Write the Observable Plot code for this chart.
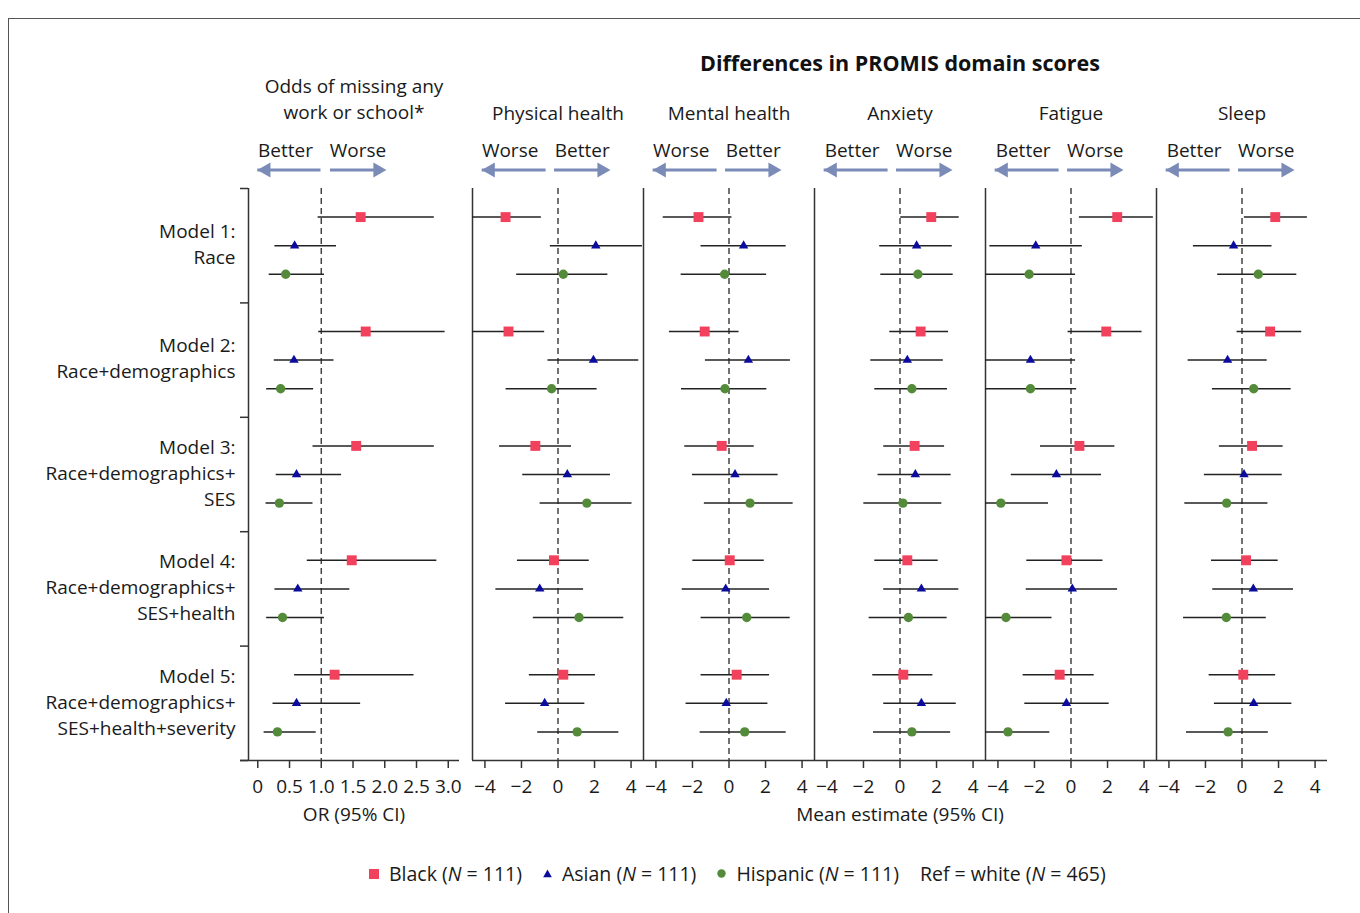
<!DOCTYPE html>
<html>
<head>
<meta charset="utf-8">
<script src="https://cdn.jsdelivr.net/npm/d3@7"></script>
<script src="https://cdn.jsdelivr.net/npm/@observablehq/plot@0.6"></script>
<style>
  body { margin: 0; background: #fff; }
  #root { position: relative; width: 1360px; height: 913px; overflow: hidden; font-family: "Open Sans", sans-serif; color: #1a1a1a; background: #fff; }
  #frame { position: absolute; left: 8px; top: 18px; width: 1400px; height: 950px; border-left: 1.5px solid #555; border-top: 1.5px solid #555; }
  .panel { position: absolute; top: 0; }
  .panel svg { overflow: visible; }
  #legend { position: absolute; top: 860px; left: 369px; display: flex; align-items: center; font-size: 19.5px; white-space: nowrap; }
  #legend .sym { display: inline-block; margin-right: 10px; }
  #legend .item { display: flex; align-items: center; margin-right: 21px; }
</style>
</head>
<body>
<div id="root">
  <div id="frame"></div>
  <div id="p1" class="panel"></div>
  <div id="p2" class="panel"></div>
  <div id="legend"></div>
</div>
<script>
// ---------- data ----------
const races = ["Black", "Asian", "Hispanic"];
const raceColors = ["#f2415d", "#0b0b9e", "#548b3a"];
const raceSymbols = ["square", "triangle", "circle"];
const legendLabels = ["Black", "Asian", "Hispanic"];
const legendN = [111, 111, 111];
const refLabel = "Ref = white";
const refN = 465;

const modelLabels = [
  "Model 1:\nRace",
  "Model 2:\nRace+demographics",
  "Model 3:\nRace+demographics+\nSES",
  "Model 4:\nRace+demographics+\nSES+health",
  "Model 5:\nRace+demographics+\nSES+health+severity"
];

// each model: [Black, Asian, Hispanic], each [estimate, lower, upper]
const oddsMissing = [
  [[1.62, 0.95, 2.78], [0.58, 0.27, 1.24], [0.44, 0.18, 1.05]],
  [[1.70, 0.96, 2.95], [0.57, 0.26, 1.20], [0.36, 0.14, 0.88]],
  [[1.55, 0.87, 2.78], [0.61, 0.29, 1.32], [0.34, 0.13, 0.87]],
  [[1.48, 0.78, 2.82], [0.63, 0.27, 1.45], [0.39, 0.14, 1.05]],
  [[1.21, 0.58, 2.46], [0.61, 0.24, 1.62], [0.31, 0.10, 0.92]]
];
const physicalHealth = [
  [[-2.87, -4.83, -0.91], [2.07, -0.42, 4.62], [0.29, -2.26, 2.73]],
  [[-2.71, -4.69, -0.73], [1.94, -0.55, 4.42], [-0.35, -2.84, 2.14]],
  [[-1.24, -3.20, 0.74], [0.51, -1.93, 2.87], [1.58, -0.98, 4.05]],
  [[-0.22, -2.22, 1.71], [-1.00, -3.40, 1.40], [1.15, -1.35, 3.60]],
  [[0.29, -1.57, 2.05], [-0.73, -2.87, 1.47], [1.05, -1.11, 3.33]]
];
const mentalHealth = [
  [[-1.67, -3.60, 0.16], [0.80, -1.53, 3.13], [-0.24, -2.62, 2.06]],
  [[-1.33, -3.26, 0.55], [1.06, -1.29, 3.36], [-0.22, -2.60, 2.07]],
  [[-0.40, -2.42, 1.38], [0.33, -2.00, 2.69], [1.15, -1.35, 3.51]],
  [[0.04, -1.98, 1.93], [-0.18, -2.56, 2.22], [0.97, -1.53, 3.35]],
  [[0.42, -1.53, 2.22], [-0.15, -2.35, 2.13], [0.86, -1.58, 3.13]]
];
const anxiety = [
  [[1.71, 0.04, 3.24], [0.91, -1.11, 2.86], [0.98, -1.05, 2.91]],
  [[1.13, -0.56, 2.66], [0.40, -1.60, 2.37], [0.65, -1.38, 2.60]],
  [[0.80, -0.89, 2.44], [0.84, -1.20, 2.80], [0.16, -1.98, 2.29]],
  [[0.40, -1.38, 2.09], [1.17, -0.89, 3.22], [0.46, -1.69, 2.58]],
  [[0.18, -1.49, 1.80], [1.17, -0.89, 3.08], [0.65, -1.45, 2.77]]
];
const fatigue = [
  [[2.53, 0.46, 4.51], [-1.93, -4.44, 0.62], [-2.29, -4.83, 0.25]],
  [[1.93, -0.16, 3.89], [-2.22, -4.69, 0.25], [-2.22, -4.75, 0.31]],
  [[0.46, -1.67, 2.40], [-0.80, -3.27, 1.67], [-3.84, -6.45, -1.23]],
  [[-0.25, -2.42, 1.75], [0.07, -2.45, 2.55], [-3.56, -6.08, -1.04]],
  [[-0.62, -2.62, 1.27], [-0.25, -2.53, 2.09], [-3.45, -5.74, -1.16]]
];
const sleep = [
  [[1.82, 0.13, 3.58], [-0.46, -2.66, 1.64], [0.89, -1.33, 3.00]],
  [[1.54, -0.27, 3.27], [-0.79, -2.95, 1.38], [0.64, -1.62, 2.69]],
  [[0.55, -1.24, 2.25], [0.11, -2.06, 2.20], [-0.84, -3.13, 1.42]],
  [[0.22, -1.67, 1.98], [0.62, -1.60, 2.82], [-0.86, -3.20, 1.33]],
  [[0.07, -1.80, 1.84], [0.64, -1.51, 2.73], [-0.76, -3.04, 1.44]]
];

const panels = ["Physical health", "Mental health", "Anxiety", "Fatigue", "Sleep"];
const panelData = [physicalHealth, mentalHealth, anxiety, fatigue, sleep];
const leftWords = ["Worse", "Worse", "Better", "Better", "Better"];
const rightWords = ["Better", "Better", "Worse", "Worse", "Worse"];

const orTicks = [0, 0.5, 1, 1.5, 2, 2.5, 3];
const meanTicks = [-4, -2, 0, 2, 4];
const orTitle = "Odds of missing any\nwork or school*";
const orAxisLabel = "OR (95% CI)";
const meanAxisLabel = "Mean estimate (95% CI)";
const mainTitle = "Differences in PROMIS domain scores";

// ---------- layout / style ----------
const FONT = "'Open Sans', sans-serif";
const FS = "19px";
const ink = "#1a1a1a";
const axisInk = "#333";
const arrowColor = "#7b8bb8";
const yDomain = [0, 20];
const bandEdges = [0, 4, 8, 12, 16, 20];
const xOR = [-0.146, 3.177];
const xMean = [-4.68, 4.68];

function rowsFrom(arr, panel) {
  const out = [];
  arr.forEach((m, mi) => m.forEach((v, ri) => {
    out.push({panel, model: mi, race: races[ri], y: mi * 4 + ri + 1, est: v[0], lo: v[1], hi: v[2]});
  }));
  return out;
}
const orRows = rowsFrom(oddsMissing, "OR");
const meanRows = panelData.flatMap((arr, i) => rowsFrom(arr, panels[i]));

const dotR = {Black: 5.6, Asian: 3.5, Hispanic: 4.7};
function dotMarks(rows, extra = {}) {
  return races.map((r, i) => Plot.dot(rows.filter(d => d.race === r), {
    x: "est", y: "y", symbol: () => raceSymbols[i], fill: raceColors[i], r: dotR[r], stroke: "none", ...extra
  }));
}

function arrowMarks(arrows, extra = {}) {
  const top = yDomain[0];
  const left = arrows.filter(a => a.tip < a.tail);
  const right = arrows.filter(a => a.tip > a.tail);
  return [
    Plot.ruleY(left, {x1: "tail", x2: "tip", y: () => top, dy: -18.5, stroke: arrowColor, strokeWidth: 3, insetLeft: 8, ...extra}),
    Plot.ruleY(right, {x1: "tail", x2: "tip", y: () => top, dy: -18.5, stroke: arrowColor, strokeWidth: 3, insetRight: 8, ...extra}),
    Plot.dot(left, {x: "tip", y: () => top, dy: -18.5, dx: 8.3, symbol: "triangle", r: 5.6, rotate: -90, fill: arrowColor, stroke: "none", ...extra}),
    Plot.dot(right, {x: "tip", y: () => top, dy: -18.5, dx: -8.3, symbol: "triangle", r: 5.6, rotate: 90, fill: arrowColor, stroke: "none", ...extra})
  ];
}

const baseStyle = {fontFamily: FONT, fontSize: FS, color: ink, background: "transparent", overflow: "visible"};
const yScale = {domain: yDomain, reverse: true, axis: null};

// ---------- panel 1: odds ratio ----------
const orArrows = [{tail: 0.87, tip: 0.0}, {tail: 1.145, tip: 2.02}];
const orWords = [{x: 0.436, t: "Better"}, {x: 1.578, t: "Worse"}];

const plot1 = Plot.plot({
  width: 470, height: 913,
  marginLeft: 248, marginRight: 11, marginTop: 188, marginBottom: 153,
  x: {domain: xOR, axis: null},
  y: yScale,
  style: baseStyle,
  marks: [
    Plot.ruleX([xOR[0]], {stroke: axisInk, strokeWidth: 1.5}),
    Plot.axisY({ticks: bandEdges, tickFormat: () => "", tickSize: 8, label: null, stroke: axisInk, strokeWidth: 1.5}),
    Plot.ruleY([yDomain[1]], {stroke: axisInk, strokeWidth: 1.5, insetLeft: -8}),
    Plot.axisX({ticks: orTicks, tickFormat: d => d === 0 ? "0" : d.toFixed(1), tickSize: 8, tickPadding: 11, label: null, stroke: axisInk, strokeWidth: 1.5, fill: ink}),
    Plot.text([orAxisLabel], {frameAnchor: "bottom", dy: 60, text: d => d, fill: ink}),
    Plot.ruleX([1], {stroke: "#444", strokeWidth: 1.5, strokeDasharray: "6,4"}),
    Plot.ruleY(orRows, {y: "y", x1: "lo", x2: "hi", stroke: "#222", strokeWidth: 1.5, clip: true}),
    ...dotMarks(orRows),
    Plot.text(modelLabels, {y: (d, i) => i * 4 + 2, frameAnchor: "left", textAnchor: "end", lineAnchor: "middle", dx: -13, dy: -3, lineHeight: 1.37, text: d => d, fill: ink}),
    Plot.text([orTitle], {frameAnchor: "top", dy: -114, lineHeight: 1.37, text: d => d, fill: ink}),
    Plot.text(orWords, {x: "x", frameAnchor: "top", dy: -45, text: "t", fill: ink}),
    ...arrowMarks(orArrows)
  ]
});
document.getElementById("p1").append(plot1);

// ---------- panels 2-6: mean differences ----------
const meanArrows = [{tail: -1.09, tip: -4.15}, {tail: -0.19, tip: 2.85}];
const wordRows = panels.flatMap((p, i) => [{panel: p, x: -2.62, t: leftWords[i]}, {panel: p, x: 1.33, t: rightWords[i]}]);

const plot2 = Plot.plot({
  width: 917.5, height: 913,
  marginLeft: 30, marginRight: 30, marginTop: 188, marginBottom: 153,
  fx: {domain: panels, padding: 0, axis: null},
  x: {domain: xMean, axis: null},
  y: yScale,
  style: baseStyle,
  marks: [
    Plot.ruleX([xMean[0]], {stroke: axisInk, strokeWidth: 1.5}),
    Plot.ruleY([yDomain[1]], {stroke: axisInk, strokeWidth: 1.5}),
    Plot.axisX({ticks: meanTicks, tickSize: 8, tickPadding: 11, label: null, stroke: axisInk, strokeWidth: 1.5, fill: ink}),
    Plot.ruleX([0], {stroke: "#444", strokeWidth: 1.5, strokeDasharray: "6,4"}),
    Plot.ruleY(meanRows, {fx: "panel", y: "y", x1: "lo", x2: "hi", stroke: "#222", strokeWidth: 1.5, clip: true}),
    ...dotMarks(meanRows, {fx: "panel"}),
    Plot.text(panels, {fx: d => d, frameAnchor: "top", dy: -82, text: d => d, fill: ink}),
    Plot.text(wordRows, {fx: "panel", x: "x", frameAnchor: "top", dy: -45, text: "t", fill: ink}),
    ...arrowMarks(meanArrows),
    Plot.text([meanAxisLabel], {fx: () => "Anxiety", frameAnchor: "bottom", dy: 60, text: d => d, fill: ink}),
    Plot.text([mainTitle], {fx: () => "Anxiety", frameAnchor: "top", dy: -133, text: d => d, fill: "#111", fontWeight: "bold", fontSize: 21.5})
  ]
});
const p2 = document.getElementById("p2");
p2.style.left = "441px";
p2.append(plot2);

// ---------- legend ----------
const legend = document.getElementById("legend");
races.forEach((r, i) => {
  const item = document.createElement("span");
  item.className = "item";
  let sym;
  if (raceSymbols[i] === "square") sym = `<svg class="sym" width="10" height="10"><rect width="10" height="10" fill="${raceColors[i]}"/></svg>`;
  else if (raceSymbols[i] === "triangle") sym = `<svg class="sym" width="9" height="9"><path d="M4.5,0.5L8.8,8.3L0.2,8.3Z" fill="${raceColors[i]}"/></svg>`;
  else sym = `<svg class="sym" width="9" height="9"><circle cx="4.5" cy="4.5" r="4.2" fill="${raceColors[i]}"/></svg>`;
  item.innerHTML = `${sym}<span>${legendLabels[i]} (<i>N</i> = ${legendN[i]})</span>`;
  legend.append(item);
});
const ref = document.createElement("span");
ref.className = "item";
ref.innerHTML = `<span>${refLabel} (<i>N</i> = ${refN})</span>`;
legend.append(ref);
</script>
</body>
</html>
